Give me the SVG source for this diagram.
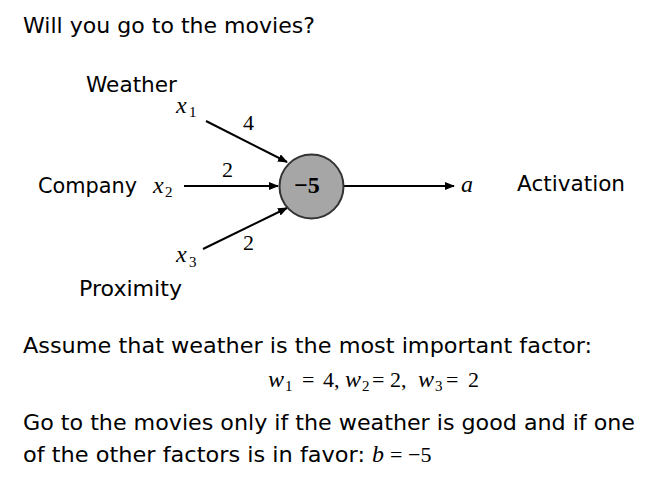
<svg xmlns="http://www.w3.org/2000/svg" width="649" height="481" viewBox="0 0 649 481">
<style>
.t{font-family:"DejaVu Sans","Verdana",sans-serif;font-size:22px;fill:#000}
.m{font-family:"Liberation Serif","Times New Roman",serif;font-style:italic;font-size:24px;fill:#000}
.s{font-family:"Liberation Serif","Times New Roman",serif;font-size:15px;fill:#000}
.n{font-family:"Liberation Serif","Times New Roman",serif;font-size:22px;fill:#000}
.c{stroke:#000;stroke-width:2;fill:none;marker-end:url(#ah)}
</style>
<defs>
<marker id="ah" viewBox="0 0 10 8" refX="9" refY="4" markerWidth="5" markerHeight="4" orient="auto" markerUnits="strokeWidth">
<path d="M0,0 L10,4 L0,8 Z" fill="#000"/>
</marker>
</defs>
<rect width="649" height="481" fill="#fff"/>
<text class="t" x="23" y="33" textLength="292" lengthAdjust="spacingAndGlyphs">Will you go to the movies?</text>

<g id="connectors">
<line class="c" x1="206" y1="121" x2="287" y2="162"/>
<line class="c" x1="184" y1="186" x2="278" y2="186"/>
<line class="c" x1="203" y1="249" x2="287" y2="208"/>
<line class="c" x1="344" y1="186" x2="454" y2="186"/>
<text class="n" x="243" y="130">4</text>
<text class="n" x="222" y="177">2</text>
<text class="n" x="243" y="250">2</text>
</g>

<g id="neuron">
<circle cx="311.5" cy="186.5" r="32" fill="#a6a6a6" stroke="#333" stroke-width="2"/>
<text x="307" y="193" text-anchor="middle" font-family="Liberation Serif, serif" font-weight="bold" font-size="24">−5</text>
</g>

<g id="x1">
<text class="t" x="86" y="92" textLength="91" lengthAdjust="spacingAndGlyphs">Weather</text>
<text class="m" x="176" y="113">x</text><text class="s" x="189" y="117">1</text>
</g>
<g id="x2">
<text class="t" x="38" y="193" textLength="99" lengthAdjust="spacingAndGlyphs">Company</text>
<text class="m" x="153" y="193">x</text><text class="s" x="165" y="197">2</text>
</g>
<g id="x3">
<text class="t" x="79" y="296" textLength="103" lengthAdjust="spacingAndGlyphs">Proximity</text>
<text class="m" x="176" y="262">x</text><text class="s" x="189" y="267">3</text>
</g>
<g id="output">
<text class="m" x="461" y="192">a</text>
<text class="t" x="517" y="191" textLength="108" lengthAdjust="spacingAndGlyphs">Activation</text>
</g>

<text class="t" x="23" y="353" textLength="569" lengthAdjust="spacingAndGlyphs">Assume that weather is the most important factor:</text>
<g>
<text class="m" x="268" y="387">w</text><text class="s" x="285" y="391">1</text>
<text class="n" x="302" y="387">=</text><text class="n" x="323" y="387">4,</text>
<text class="m" x="345" y="387">w</text><text class="s" x="362" y="391">2</text>
<text class="n" x="372" y="387">=</text><text class="n" x="390" y="387">2,</text>
<text class="m" x="418" y="387">w</text><text class="s" x="435" y="391">3</text>
<text class="n" x="446" y="387">=</text><text class="n" x="468" y="387">2</text>
</g>
<text class="t" x="23" y="430" textLength="612" lengthAdjust="spacingAndGlyphs">Go to the movies only if the weather is good and if one</text>
<text class="t" x="23" y="462" textLength="342" lengthAdjust="spacingAndGlyphs">of the other factors is in favor:</text>
<text class="m" x="372" y="462">b</text><text class="n" x="390" y="462">=</text><text class="n" x="408" y="462">−5</text>
</svg>
